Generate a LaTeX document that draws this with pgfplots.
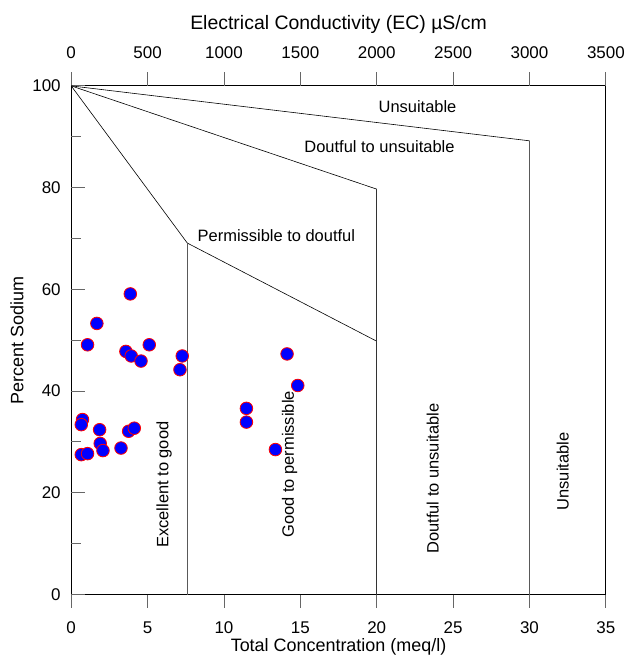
\documentclass[border=0pt]{standalone}
\usepackage{pgfplots}
\pgfplotsset{compat=1.18}
\usepackage{fontspec}
\setmainfont{Liberation Sans}

\pgfplotstableread{
x y
3.87 59.1
1.68 53.3
1.07 49.1
3.58 47.8
3.93 46.9
4.57 45.9
5.11 49.1
7.27 46.9
7.12 44.2
14.13 47.3
14.83 41.1
11.47 36.6
11.47 33.9
13.37 28.5
0.74 34.4
0.66 33.4
1.86 32.4
3.76 32.1
4.13 32.7
1.90 29.7
2.08 28.3
3.26 28.8
0.66 27.5
1.07 27.7
}\samples

\colorlet{tickgray}{gray!80!black}

\begin{document}
\begin{tikzpicture}[font=\fontsize{16.5}{19}\selectfont]
\pgfplotsset{
  every axis/.append style={
    width=534bp, height=508bp, scale only axis,
    /pgf/number format/assume math mode=true,
    /pgf/number format/1000 sep={},
    tick label style={font=\fontsize{17}{20}\selectfont},
    label style={font=\fontsize{18}{21}\selectfont},
    axis line style={black, line width=0.8pt},
    major tick length=0pt,
  }
}
% y tick labels
\begin{axis}[
  xmin=0, xmax=35, ymin=0, ymax=100,
  axis x line=none, axis y line*=left,
  ytick={0,20,...,100},
  yticklabel shift=7bp,
  ylabel={Percent Sodium}, ylabel shift=2bp,
]
\end{axis}
% top EC axis
\begin{axis}[
  xmin=0, xmax=3500, ymin=0, ymax=100,
  axis x line*=top, axis y line=none,
  xtick={0,500,...,3500},
  xticklabel shift=24bp,
  xlabel={Electrical Conductivity (EC) µS/cm}, xlabel shift=6bp,
  xlabel style={font=\fontsize{19.5}{22}\selectfont},
]
\end{axis}
% main
\begin{axis}[
  xmin=0, xmax=35, ymin=0, ymax=100,
  xtick={0,5,...,35}, xtick pos=bottom,
  ytick=\empty,
  xticklabel shift=24bp,
  xlabel={Total Concentration (meq/l)}, xlabel shift=-2bp,
  clip=false, unbounded coords=jump,
]
% tick marks: bottom (outside), top (outside), left (inside)
\addplot[tickgray, line width=0.9pt, ycomb, forget plot] coordinates {
  (0,-2.56) (5,-2.56) (10,-2.56) (15,-2.56) (20,-2.56) (25,-2.56) (30,-2.56) (35,-2.56)};
\addplot[tickgray, line width=0.9pt, forget plot] coordinates {
  (0,100) (0,102.76) (nan,nan) (5,100) (5,102.76) (nan,nan)
  (10,100) (10,102.76) (nan,nan) (15,100) (15,102.76) (nan,nan)
  (20,100) (20,102.76) (nan,nan) (25,100) (25,102.76) (nan,nan)
  (30,100) (30,102.76) (nan,nan) (35,100) (35,102.76)};
\addplot[tickgray, line width=0.9pt, xcomb, forget plot] coordinates {
  (0.92,0) (0.66,10) (0.92,20) (0.66,30) (0.92,40) (0.66,50)
  (0.92,60) (0.66,70) (0.92,80) (0.66,90) (0.92,100)};
% class boundaries
\addplot[black, line width=0.6pt] coordinates {(0,100) (7.6,69.1) (20,49.8)};
\addplot[black, line width=0.6pt] coordinates {(0,100) (20,79.7)};
\addplot[black, line width=0.6pt] coordinates {(0,100) (30,89.2)};
\addplot[gray!70!black, line width=0.9pt] coordinates {(7.6,0) (7.6,69.1)};
\addplot[gray!40!black, line width=0.9pt] coordinates {(20,0) (20,79.7)};
\addplot[gray!70!black, line width=0.9pt] coordinates {(30,0) (30,89.2)};
\addplot[only marks, mark=*, mark size=6.3bp,
  mark options={fill=blue, draw=red, line width=0.8pt}] table[x=x, y=y] {\samples};
\node at (axis cs:22.67,95.9) {Unsuitable};
\node at (axis cs:20.18,88.0) {Doutful to unsuitable};
\node at (axis cs:13.43,70.5) {Permissible to doutful};
\node[rotate=90] at (axis cs:6.09,21.6) {Excellent to good};
\node[rotate=90] at (axis cs:14.29,25.6) {Good to permissible};
\node[rotate=90] at (axis cs:23.66,22.8) {Doutful to unsuitable};
\node[rotate=90] at (axis cs:32.18,24.2) {Unsuitable};
\end{axis}
\path (current bounding box.north west) ++(-7bp,12bp);
\end{tikzpicture}
\end{document}
